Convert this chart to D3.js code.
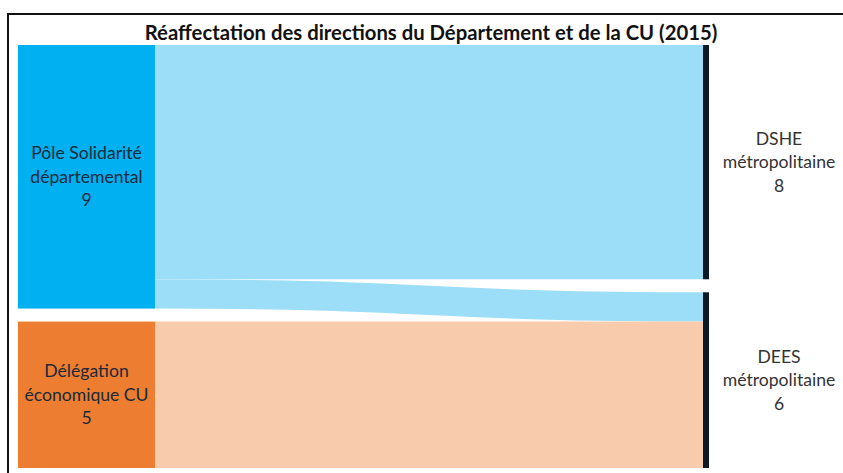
<!DOCTYPE html>
<html lang="fr">
<head>
    <meta charset="UTF-8">
    <title>Réaffectation des directions du Département et de la CU (2015)</title>
    <script src="https://d3js.org/d3.v7.min.js"></script>
    <style>
        body { margin: 0; background: #fff; }
        svg { display: block; font-family: Lato, "Open Sans", sans-serif; }
    </style>
</head>
<body>
    <svg></svg>
    <script>
        const chartTitle = "Réaffectation des directions du Département et de la CU (2015)";

        // nodes: left column then right column
        const leftNodes = ["Pôle Solidarité départemental", "Délégation économique CU"];
        const rightNodes = ["DSHE métropolitaine", "DEES métropolitaine"];
        const nodeLines = {
            "Pôle Solidarité départemental": ["Pôle Solidarité", "départemental"],
            "Délégation économique CU": ["Délégation", "économique CU"],
            "DSHE métropolitaine": ["DSHE", "métropolitaine"],
            "DEES métropolitaine": ["DEES", "métropolitaine"]
        };

        // flows
        const linkSources = ["Pôle Solidarité départemental", "Pôle Solidarité départemental", "Délégation économique CU"];
        const linkTargets = ["DSHE métropolitaine", "DEES métropolitaine", "DEES métropolitaine"];
        const linkValues = [8, 1, 5];

        const width = 843, height = 473;
        const margin = { top: 45, bottom: 5 };
        const nodePad = 13;

        const svg = d3.select("svg")
            .attr("width", width)
            .attr("height", height);

        // frame
        svg.append("path")
            .attr("d", `M8,${height} V14 H${width}`)
            .attr("fill", "none")
            .attr("stroke", "#111")
            .attr("stroke-width", 2);

        svg.append("text")
            .attr("x", 431)
            .attr("y", 40)
            .attr("text-anchor", "middle")
            .attr("font-weight", "bold")
            .attr("font-size", 20.3)
            .attr("fill", "#111")
            .text(chartTitle);

        const links = linkValues.map((v, i) => ({ source: linkSources[i], target: linkTargets[i], value: v }));

        const nodeValue = name => Math.max(
            d3.sum(links.filter(l => l.source === name), l => l.value),
            d3.sum(links.filter(l => l.target === name), l => l.value)
        );

        const total = d3.sum(linkValues);
        const k = (height - margin.top - margin.bottom - nodePad) / total;

        const x = d3.scalePoint().domain(["left", "right"]).range([18, 703]);
        const nodeWidth = { left: 137, right: 6 };

        const nodes = {};
        [["left", leftNodes], ["right", rightNodes]].forEach(([col, names]) => {
            let y = margin.top;
            names.forEach(name => {
                const h = nodeValue(name) * k;
                nodes[name] = { name, col, x0: x(col), x1: x(col) + nodeWidth[col], y0: y, y1: y + h, value: nodeValue(name), outY: y, inY: y };
                y += h + nodePad;
            });
        });

        links.forEach(l => {
            const s = nodes[l.source], t = nodes[l.target];
            l.w = l.value * k;
            l.sy = s.outY + l.w / 2; s.outY += l.w;
            l.ty = t.inY + l.w / 2; t.inY += l.w;
            l.sx = s.x1; l.tx = t.x0;
        });

        const linkColor = { "Pôle Solidarité départemental": "#9cdef7", "Délégation économique CU": "#f7cbac" };
        const nodeColor = {
            "Pôle Solidarité départemental": "#00b0f0",
            "Délégation économique CU": "#ed7d31",
            "DSHE métropolitaine": "#0b1a24",
            "DEES métropolitaine": "#0b1a24"
        };

        const linkPath = d3.linkHorizontal().source(d => [d.sx, d.sy]).target(d => [d.tx, d.ty]);

        svg.append("g")
            .selectAll("path")
            .data(links)
            .join("path")
            .attr("d", linkPath)
            .attr("fill", "none")
            .attr("stroke", d => linkColor[d.source])
            .attr("stroke-width", d => d.w);

        const nodeList = Object.values(nodes);

        svg.append("g")
            .selectAll("rect")
            .data(nodeList)
            .join("rect")
            .attr("x", d => d.x0)
            .attr("y", d => d.y0)
            .attr("width", d => d.x1 - d.x0)
            .attr("height", d => d.y1 - d.y0)
            .attr("fill", d => nodeColor[d.name]);

        // labels
        const lineH = 23.5;
        const labels = svg.append("g")
            .attr("font-size", 17.6)
            .attr("text-anchor", "middle");

        nodeList.forEach(d => {
            const lines = nodeLines[d.name].concat([String(d.value)]);
            const cx = d.col === "left" ? (d.x0 + d.x1) / 2 : 779;
            const cy = (d.y0 + d.y1) / 2;
            const t = labels.append("text")
                .attr("fill", d.col === "left" ? "#1b2a3a" : "#333");
            lines.forEach((s, i) => {
                t.append("tspan")
                    .attr("x", cx)
                    .attr("y", cy + (i - 1) * lineH + 6)
                    .text(s);
            });
        });
    </script>
</body>
</html>
